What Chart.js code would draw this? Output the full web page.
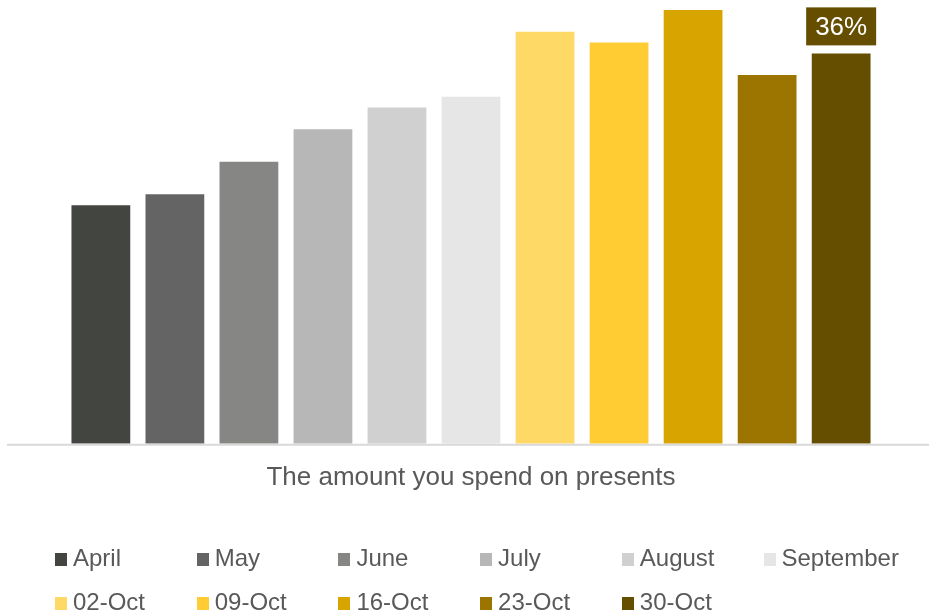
<!DOCTYPE html>
<html>
<head>
<meta charset="utf-8">
<script src="https://cdn.jsdelivr.net/npm/chart.js@4.4.1/dist/chart.umd.min.js"></script>
<style>
  html, body { margin: 0; padding: 0; background: #fff; }
  #wrap { position: relative; width: 929px; height: 613px; overflow: hidden; }
  #c { position: absolute; left: 0; top: 0; }
  .lg-box { position: absolute; width: 12px; height: 13px; }
  .lg-txt { position: absolute; font-family: "Liberation Sans", Arial, sans-serif; font-size: 24px; line-height: 24px; color: #595959; white-space: nowrap; }
</style>
</head>
<body>
<div id="wrap">
  <canvas id="c" width="929" height="613"></canvas>
  <div id="legend"></div>
</div>
<script>
const categories = ["The amount you spend on presents"];
const seriesNames = ["April", "May", "June", "July", "August", "September", "02-Oct", "09-Oct", "16-Oct", "23-Oct", "30-Oct"];
const seriesValues = [22, 23, 26, 29, 31, 32, 38, 37, 40, 34, 36];
const seriesColors = ["#434541", "#646464", "#868785", "#b7b7b7", "#d0d0d0", "#e6e6e6", "#ffd966", "#ffcc33", "#d7a400", "#9c7400", "#664e00"];
const labelledSeries = ["30-Oct"];

const datasets = seriesNames.map((name, i) => ({
  label: name,
  data: [seriesValues[i]],
  backgroundColor: seriesColors[i],
  borderWidth: 0,
  barPercentage: 0.794,
  categoryPercentage: 0.889
}));

const FONT = '"Liberation Sans", Arial, sans-serif';

const extras = {
  id: 'extras',
  afterDatasetsDraw(chart) {
    const ctx = chart.ctx;
    const area = chart.chartArea;
    ctx.save();
    ctx.strokeStyle = '#d9d9d9';
    ctx.lineWidth = 2;
    ctx.beginPath();
    ctx.moveTo(7, area.bottom + 1);
    ctx.lineTo(929, area.bottom + 1);
    ctx.stroke();
    chart.data.datasets.forEach((ds, i) => {
      if (!labelledSeries.includes(ds.label)) return;
      const meta = chart.getDatasetMeta(i);
      meta.data.forEach((bar, j) => {
        const txt = ds.data[j] + '%';
        ctx.font = '26px ' + FONT;
        const w = 70, h = 38;
        const cx = bar.x;
        const bottom = bar.y - 8;
        ctx.fillStyle = ds.backgroundColor;
        ctx.fillRect(cx - w / 2, bottom - h, w, h);
        ctx.fillStyle = '#ffffff';
        ctx.textAlign = 'center';
        ctx.textBaseline = 'middle';
        ctx.fillText(txt, cx, bottom - h / 2 + 1);
      });
    });
    ctx.restore();
  }
};

new Chart(document.getElementById('c'), {
  type: 'bar',
  data: { labels: categories, datasets },
  options: {
    responsive: false,
    animation: false,
    layout: { padding: { left: 13, right: 0, top: 10, bottom: 102 } },
    plugins: { legend: { display: false }, tooltip: { enabled: false } },
    scales: {
      x: {
        grid: { display: false, drawTicks: false },
        border: { display: false },
        ticks: { color: '#595959', font: { family: FONT, size: 26 }, padding: 18 }
      },
      y: { display: false, min: 0, max: 40 }
    }
  },
  plugins: [extras]
});

const lg = document.getElementById('legend');
seriesNames.forEach((name, i) => {
  const row = Math.floor(i / 6), col = i % 6;
  const x = 55 + col * 141.7;
  const y = 553 + row * 44;
  const box = document.createElement('div');
  box.className = 'lg-box';
  box.style.left = x + 'px';
  box.style.top = y + 'px';
  box.style.background = seriesColors[i];
  lg.appendChild(box);
  const t = document.createElement('div');
  t.className = 'lg-txt';
  t.style.left = (x + 18) + 'px';
  t.style.top = (y - 7) + 'px';
  t.textContent = name;
  lg.appendChild(t);
});
</script>
</body>
</html>
